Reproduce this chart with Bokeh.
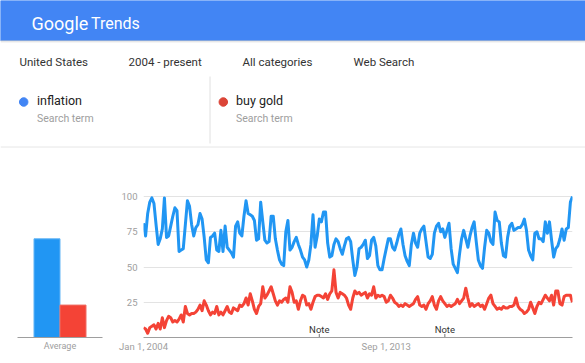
from bokeh.plotting import figure
from bokeh.layouts import column, row
from bokeh.models import Range1d, FixedTicker, FactorRange, ColumnDataSource
from bokeh.transform import dodge
from bokeh.core.properties import value
from bokeh.embed import file_html
from bokeh.resources import INLINE

FONT = "Roboto"

# ---------------- data ----------------
inflation = [
    81, 72, 88, 96, 99, 95, 80, 66, 70, 77,
    99, 71, 72, 79, 86, 92, 90, 61, 62, 63,
    80, 97, 93, 80, 72, 78, 80, 88, 84, 71,
    55, 53, 71, 72, 74, 62, 61, 76, 61, 79,
    64, 62, 60, 57, 79, 82, 74, 72, 86, 97,
    88, 87, 86, 83, 69, 70, 96, 82, 69, 67,
    68, 86, 86, 70, 62, 55, 52, 51, 75, 83,
    62, 64, 68, 71, 66, 62, 57, 55, 50, 55,
    66, 87, 64, 72, 84, 82, 89, 89, 67, 57,
    58, 66, 70, 68, 63, 59, 65, 70, 71, 68,
    55, 44, 50, 63, 64, 66, 69, 56, 58, 69,
    71, 65, 51, 48, 48, 56, 63, 70, 70, 64,
    62, 67, 73, 77, 66, 58, 54, 51, 66, 74,
    67, 64, 74, 77, 79, 68, 57, 56, 59, 74,
    79, 81, 75, 77, 71, 76, 81, 63, 52, 49,
    46, 59, 70, 76, 70, 64, 72, 78, 82, 68,
    55, 51, 49, 64, 76, 74, 68, 66, 89, 83,
    82, 67, 58, 57, 71, 79, 81, 76, 77, 78,
    78, 80, 84, 76, 62, 58, 55, 74, 75, 70,
    70, 68, 82, 74, 82, 69, 57, 63, 65, 70,
    77, 69, 77, 78, 96, 100,
]
buy_gold = [
    7, 6, 3, 7, 8, 9, 6, 10, 6, 14,
    7, 12, 15, 14, 11, 12, 11, 13, 16, 11,
    22, 17, 16, 17, 17, 18, 20, 23, 19, 26,
    23, 19, 16, 18, 17, 22, 16, 18, 16, 19,
    22, 18, 17, 21, 20, 19, 23, 22, 24, 28,
    23, 31, 26, 20, 17, 22, 24, 36, 28, 30,
    33, 36, 31, 26, 23, 26, 25, 27, 28, 25,
    36, 32, 25, 26, 20, 26, 30, 29, 23, 24,
    20, 25, 29, 30, 30, 29, 28, 31, 27, 31,
    33, 48, 32, 28, 32, 31, 30, 28, 23, 20,
    28, 33, 31, 32, 30, 31, 32, 28, 31, 30,
    36, 28, 30, 29, 30, 29, 25, 26, 30, 28,
    25, 24, 22, 23, 22, 24, 23, 22, 23, 24,
    27, 29, 23, 22, 23, 20, 24, 26, 29, 23,
    20, 26, 29, 26, 24, 22, 23, 22, 23, 24,
    27, 24, 26, 28, 35, 28, 22, 24, 22, 23,
    24, 22, 23, 20, 24, 28, 30, 24, 22, 20,
    21, 20, 22, 21, 21, 22, 22, 23, 28, 22,
    20, 19, 17, 18, 20, 25, 21, 17, 22, 25,
    24, 27, 30, 28, 26, 30, 23, 33, 33, 24,
    23, 29, 30, 30, 30, 25,
]
terms = ["inflation", "buy gold"]
averages = [70, 23]
x_tick_months = [0, 116]
x_tick_labels = ["Jan 1, 2004", "Sep 1, 2013"]
y_ticks = [25, 50, 75, 100]
note_months = [84, 144]
filters = ["United States", "2004 - present", "All categories", "Web Search"]

# ---------------- styles ----------------
BLUE = "#2196F3"
RED = "#F44336"
HEADER = "#4285F4"
GREY_TXT = "#9e9e9e"
DARK_TXT = "#333333"
Y_TOP = 100 * 147 / 141

# ---------------- top panel (header, filters, legend) ----------------
top = figure(width=585, height=150, x_range=Range1d(0, 585), y_range=Range1d(150, 0),
             x_axis_type=None, y_axis_type=None, toolbar_location=None,
             output_backend="svg", min_border=0)
top.outline_line_color = None
top.grid.visible = False

top.quad(left=0, right=585, top=0, bottom=40, color=HEADER)
top.segment(x0=[0], y0=[40.5], x1=[585], y1=[40.5], line_color="#c8c8c8", line_width=1)
top.segment(x0=[0], y0=[41.5], x1=[585], y1=[41.5], line_color="#ebebeb", line_width=1)

top.text(x=[31], y=[22.5], text=["Google"], text_font=value(FONT), text_font_size="18px",
         text_color="white", text_baseline="alphabetic")
top.text(x=[90.5], y=[22.5], text=["Trends"], text_font=value(FONT), text_font_size="16px",
         text_color="white", text_baseline="alphabetic")

top.text(x=[19, 128, 242, 353], y=[61] * 4, text=filters, text_font=value(FONT),
         text_font_size="11.5px", text_color=DARK_TXT, text_baseline="middle")

top.scatter(x=[23.2, 222.8], y=[101.5, 101.5], size=8.5, marker="circle",
            color=["#4285F4", "#DB4437"])
top.text(x=[36.5, 235.5], y=[100, 100], text=terms, text_font=value(FONT),
         text_font_size="12.5px", text_color="#222222", text_baseline="middle")
top.text(x=[36.5, 235.5], y=[117.5, 117.5], text=["Search term", "Search term"],
         text_font=value(FONT), text_font_size="10.5px", text_color=GREY_TXT,
         text_baseline="middle")
top.segment(x0=[209.5], y0=[76], x1=[209.5], y1=[143], line_color="#e0e0e0", line_width=1)
top.segment(x0=[0], y0=[146.5], x1=[585], y1=[146.5], line_color="#e6e6e6", line_width=1)

# ---------------- average bars ----------------
bar = figure(width=110, height=213, x_range=FactorRange(factors=["Average"]),
             y_range=Range1d(0, Y_TOP), y_axis_type=None, toolbar_location=None,
             output_backend="svg", min_border_left=17, min_border_right=8,
             min_border_top=40, min_border_bottom=26)
bar.outline_line_color = None
bar.grid.grid_line_color = None
src_b = ColumnDataSource(dict(cat=["Average"], v=[averages[0]]))
src_r = ColumnDataSource(dict(cat=["Average"], v=[averages[1]]))
bar.vbar(x=dodge("cat", -0.153, range=bar.x_range), top="v", width=0.306, source=src_b,
         fill_color=BLUE, line_color="#64b5f6", line_width=1)
bar.vbar(x=dodge("cat", 0.153, range=bar.x_range), top="v", width=0.306, source=src_r,
         fill_color=RED, line_color="#ef6f66", line_width=1)
bar.xaxis.axis_line_color = "#9e9e9e"
bar.xaxis.major_tick_line_color = None
bar.xaxis.major_tick_out = 0
bar.xaxis.major_label_standoff = 3
bar.xaxis.major_label_text_font = FONT
bar.xaxis.major_label_text_font_size = "9px"
bar.xaxis.major_label_text_color = GREY_TXT

# ---------------- time series ----------------
months = list(range(len(inflation)))
line = figure(width=475, height=213, x_range=Range1d(0, len(inflation) - 1),
              y_range=Range1d(0, Y_TOP), toolbar_location=None, output_backend="svg",
              min_border_left=33, min_border_right=13, min_border_top=40, min_border_bottom=26)
line.outline_line_color = None
line.xgrid.grid_line_color = None
line.ygrid.ticker = FixedTicker(ticks=y_ticks)
line.ygrid.grid_line_color = "#e3e3e3"

line.yaxis.ticker = FixedTicker(ticks=y_ticks)
line.yaxis.axis_line_color = None
line.yaxis.major_tick_line_color = None
line.yaxis.minor_tick_line_color = None
line.yaxis.major_tick_out = 0
line.yaxis.major_label_standoff = 6
line.yaxis.major_label_text_font = FONT
line.yaxis.major_label_text_font_size = "9.5px"
line.yaxis.major_label_text_color = GREY_TXT

line.xaxis.ticker = FixedTicker(ticks=x_tick_months)
line.xaxis.major_label_overrides = dict(zip(x_tick_months, x_tick_labels))
line.xaxis.axis_line_color = "#9e9e9e"
line.xaxis.major_tick_line_color = None
line.xaxis.minor_tick_line_color = None
line.xaxis.major_tick_out = 0
line.xaxis.major_label_standoff = 3
line.xaxis.major_label_text_font = FONT
line.xaxis.major_label_text_font_size = "9.5px"
line.xaxis.major_label_text_color = GREY_TXT

line.line(months, inflation, line_width=3, line_color=BLUE, line_join="round")
line.line(list(range(len(buy_gold))), buy_gold, line_width=3, line_color=RED, line_join="round")

line.segment(x0=note_months, y0=[0] * len(note_months), x1=note_months,
             y1=[2.5] * len(note_months), line_color="#757575", line_width=1)
line.text(x=note_months, y=[5.7] * len(note_months), text=["Note"] * len(note_months),
          text_font=value(FONT), text_font_size="9.5px", text_color=DARK_TXT,
          text_align="center", text_baseline="middle")

layout = column(top, row(bar, line, spacing=0), spacing=0)
open("out.html", "w").write(file_html(layout, INLINE))
